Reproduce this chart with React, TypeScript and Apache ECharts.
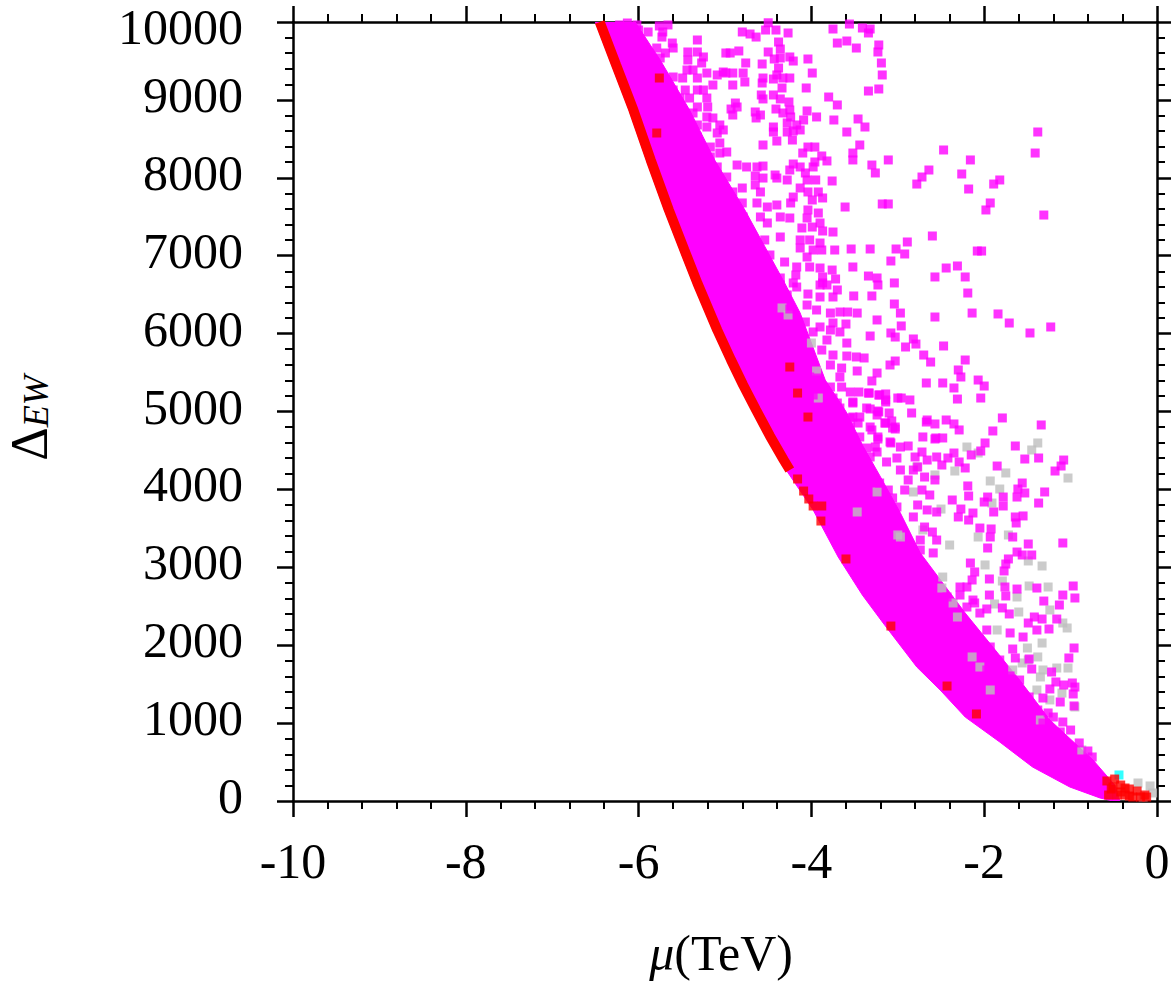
import React, { useEffect, useRef } from "react";
import * as echarts from "echarts";

const FONT = "'Liberation Serif', 'Times New Roman', serif";

const X_MIN = -10;
const X_MAX = 0;
const X_STEP = 2;
const Y_MIN = 0;
const Y_MAX = 10000;
const Y_STEP = 1000;

// lower (left) edge of the solid magenta band
const DENSE_LOWER = [
  [-6.5, 10000], [-6.31, 9448], [-6.11, 8870], [-5.91, 8229], [-5.7, 7587], [-5.52, 7073],
  [-5.37, 6650], [-5.14, 6046], [-4.98, 5661], [-4.84, 5340], [-4.69, 5019], [-4.53, 4686],
  [-4.37, 4377], [-3.98, 3736], [-3.69, 3132], [-3.41, 2644], [-3.17, 2285], [-2.78, 1720],
  [-2.51, 1425], [-2.22, 1078], [-1.82, 757], [-1.44, 436], [-1.01, 180], [-0.66, 39], [-0.51, 0],
];

// upper (right) edge of the solid magenta band, from bottom to top
const DENSE_UPPER = [
  [-0.43, 0], [-0.49, 205], [-0.74, 526], [-1.24, 1040], [-1.59, 1553], [-2.22, 2413],
  [-2.74, 3184], [-2.97, 3697], [-3.2, 4160], [-3.4, 4550], [-3.6, 5000], [-3.84, 5404], [-4.13, 6264], [-4.31, 6650],
  [-4.77, 7587], [-5.12, 8229], [-5.41, 8870], [-5.75, 9512], [-6.04, 10000],
];

// row of red points along the lower edge
const RED_EDGE = [
  [-6.45, 10000], [-6.26, 9448], [-6.06, 8870], [-5.86, 8229], [-5.65, 7587], [-5.47, 7073],
  [-5.32, 6650], [-5.09, 6046], [-4.93, 5661], [-4.79, 5340], [-4.64, 5019], [-4.48, 4686],
  [-4.32, 4377], [-4.25, 4249],
];

const MAGENTA = [
  [-4.5, 9990], [-4.8, 9872], [-4.71, 9846], [-4.64, 9807], [-4.53, 9897], [-4.41, 9897], [-4.27, 9859], [-4.38, 9743],
  [-3.75, 9910], [-3.56, 9974], [-3.41, 9923], [-3.32, 9910], [-3.34, 9859], [-3.7, 9730], [-3.59, 9756], [-3.48, 9666],
  [-3.22, 9705], [-3.23, 9615], [-3.19, 9474], [-3.18, 9320], [-3.22, 9140], [-3.34, 9114], [-4.04, 9525], [-3.99, 9345],
  [-4.06, 9153], [-3.8, 9037], [-3.7, 8935], [-3.94, 8781], [-3.74, 8742], [-3.46, 8755], [-3.59, 8588], [-3.38, 8652],
  [-3.44, 8421], [-3.52, 8318], [-3.52, 8229], [-3.3, 8164], [-3.26, 8062], [-3.11, 8229], [-2.78, 7920], [-3.76, 7959],
  [-3.61, 7625], [-3.18, 7664], [-3.11, 7664], [-2.89, 7176], [-2.92, 7022], [-3.02, 7086], [-3.08, 6932], [-3.04, 6650],
  [-3.32, 7086], [-3.54, 7086], [-3.73, 7073], [-3.52, 6855], [-3.34, 6739], [-3.24, 6714], [-3.23, 6624], [-3.72, 6701],
  [-3.7, 6560],
  [-1.38, 8588], [-1.41, 8318], [-2.47, 8357], [-2.16, 8229], [-2.64, 8100], [-2.72, 8010], [-2.26, 8049], [-2.18, 7856],
  [-1.89, 7920], [-1.82, 7972], [-1.93, 7677], [-1.98, 7587], [-1.31, 7522], [-2.6, 7253], [-2.08, 7060], [-2.03, 7060],
  [-2.44, 6842], [-2.31, 6868], [-2.57, 6727], [-2.22, 6727], [-2.19, 6521], [-3.3, 6483], [-3.51, 6483], [-3.04, 6380],
  [-2.97, 6264], [-3.47, 6264], [-3.24, 6175], [-2.57, 6213], [-2.14, 6264], [-1.84, 6252], [-1.71, 6136], [-1.47, 6008],
  [-1.23, 6085], [-2.96, 6098], [-3.08, 6008], [-3.03, 5956], [-3.32, 5969], [-2.82, 5931], [-2.79, 5866], [-2.91, 5828],
  [-2.47, 5841], [-2.7, 5725], [-2.62, 5635], [-2.22, 5661], [-3.39, 5687], [-3.48, 5700], [-3.47, 5520], [-3.03, 5648],
  [-3.09, 5597], [-3.24, 5494], [-3.3, 5392], [-2.67, 5366], [-2.48, 5366], [-2.35, 5302], [-2.3, 5533], [-2.27, 5443],
  [-2.07, 5404], [-2.0, 5327], [-2.04, 5173], [-2.31, 5160], [-2.96, 5173], [-2.86, 5148], [-3.33, 5237], [-3.45, 5250],
  [-3.22, 5212], [-3.14, 5225], [-3.14, 5122], [-3.32, 5032], [-3.22, 4994], [-3.1, 4981], [-2.84, 4981], [-1.79, 4917],
  [-2.44, 4891], [-2.66, 4891], [-3.44, 4929],
  [-1.34, 4827], [-1.9, 4750], [-1.99, 4596], [-1.64, 4557], [-2.04, 4493], [-2.15, 4442], [-2.35, 4467], [-2.29, 4763],
  [-2.35, 4840], [-2.57, 4840], [-2.67, 4865], [-2.48, 4660], [-2.57, 4647], [-2.71, 4673], [-2.88, 4557], [-2.97, 4544],
  [-3.08, 4596], [-3.03, 4775], [-3.07, 4878], [-3.15, 4852], [-3.23, 5006], [-1.53, 4390], [-1.37, 4403], [-1.08, 4377],
  [-1.11, 4300], [-1.18, 4236], [-1.85, 4300], [-2.22, 4275], [-2.29, 4352], [-2.42, 4403], [-2.49, 4313], [-1.56, 4082],
  [-1.61, 4005], [-1.53, 3954], [-1.62, 3902], [-1.3, 3967], [-1.37, 3825], [-1.78, 3902], [-1.78, 3787], [-1.96, 3902],
  [-2.0, 3838], [-1.89, 3710], [-2.19, 4044], [-2.18, 3915], [-2.37, 3864], [-2.27, 3748], [-2.3, 3646], [-2.13, 3697],
  [-2.18, 3607], [-1.64, 3646], [-1.55, 3659], [-1.63, 3569], [-2.05, 3504], [-1.92, 3492], [-1.93, 3389], [-1.67, 3389],
  [-1.49, 3299], [-1.09, 3312], [-1.62, 3196], [-1.56, 3158], [-1.45, 3158], [-1.96, 3248], [-1.72, 3107], [-1.75, 3042],
  [-1.77, 2953], [-2.11, 2940], [-2.16, 3055], [-1.94, 2850], [-1.76, 2747], [-1.62, 2721], [-1.75, 2632], [-1.39, 2734],
  [-0.97, 2760], [-0.95, 2606], [-1.09, 2644], [-1.31, 2567], [-1.13, 2516], [-1.79, 2478], [-1.71, 2401], [-1.97, 2465],
  [-1.94, 2644], [-1.42, 2362], [-1.33, 2336], [-1.16, 2336], [-2.28, 2644], [-2.2, 2747], [-2.14, 2837], [-2.2, 2490],
  [-2.11, 2542],
  [-1.49, 2285], [-1.25, 2208], [-1.39, 2195], [-1.55, 2105], [-1.7, 2157], [-0.96, 1964], [-1.02, 1836], [-1.48, 1823],
  [-1.45, 1694], [-1.67, 1951], [-1.64, 1836], [-1.22, 1656], [-1.17, 1528], [-1.08, 1489], [-0.98, 1515], [-0.95, 1463],
  [-0.97, 1374], [-1.12, 1271], [-0.96, 1220], [-1.24, 1438], [-1.32, 1322], [-1.48, 1335], [-1.38, 1168], [-1.26, 1130],
  [-1.2, 1078], [-1.09, 1014], [-1.0, 911], [-1.12, 886], [-1.24, 873], [-0.9, 745], [-0.8, 642], [-0.75, 565],
  [-1.32, 1001], [-1.59, 1553], [-1.7, 1605], [-1.82, 1592], [-1.82, 1463], [-2.08, 1425], [-1.97, 1682], [-1.82, 1810],
  [-1.93, 1977], [-2.08, 2067], [-1.97, 2195], [-2.05, 2413], [-2.13, 2580], [-2.28, 2747], [-2.43, 2619], [-2.57, 2580],
  [-2.71, 2747],
  [-4.36, 6624], [-4.17, 6598], [-3.87, 6650], [-4.28, 6496], [-4.04, 6508], [-3.9, 6470], [-3.75, 6470], [-4.25, 6316],
  [-4.05, 6367], [-3.94, 6303], [-3.78, 6264], [-3.67, 6277], [-3.58, 6277], [-4.07, 6149], [-3.9, 6085], [-3.75, 6136],
  [-3.6, 6123], [-4.13, 6046], [-3.98, 6021], [-3.78, 6046], [-3.67, 6021], [-4.17, 5892], [-3.82, 5918], [-3.59, 5879],
  [-4.13, 5764], [-3.88, 5789], [-3.75, 5725], [-3.59, 5712], [-4.13, 5635], [-3.78, 5597], [-3.65, 5558], [-4.02, 5443],
  [-3.92, 5430], [-3.67, 5443], [-3.94, 5327], [-3.78, 5314], [-3.55, 5250], [-3.0, 5173], [-3.98, 5212], [-3.75, 5173],
  [-3.52, 5122], [-3.67, 5045], [-3.82, 5058], [-3.52, 4929], [-3.32, 4801], [-3.06, 4788], [-3.7, 4801], [-3.55, 4801],
  [-3.44, 4673], [-3.23, 4673], [-3.09, 4609], [-3.67, 4596], [-3.52, 4544], [-3.36, 4531], [-3.24, 4480],
  [-3.65, 5314], [-3.34, 5237], [-3.21, 5212], [-3.14, 5148], [-2.56, 4660], [-3.03, 4801], [-3.14, 4852], [-3.23, 4647],
  [-3.26, 4544], [-3.32, 4416], [-3.13, 4352], [-3.01, 4403], [-2.8, 4416], [-2.72, 4480], [-2.66, 4377], [-2.55, 4416],
  [-2.77, 4288], [-2.69, 4159], [-2.57, 4121], [-2.88, 4121], [-2.82, 4249], [-2.92, 3992], [-2.72, 3992], [-2.63, 3928],
  [-2.77, 3800], [-2.66, 3736], [-2.55, 3710], [-2.82, 3646], [-2.69, 3517], [-2.6, 3453], [-2.74, 3350], [-2.55, 3350],
  [-2.74, 3222], [-2.59, 3184], [-3.01, 3774], [-3.06, 3890], [-3.11, 3992], [-3.21, 4082], [-2.97, 4249], [-3.46, 4852],
  [-3.55, 4917], [-3.78, 5019], [-3.7, 5109], [-3.52, 5109], [-3.36, 5045], [-3.3, 4763], [-3.24, 4955],
  [-4.84, 9628], [-4.76, 9474], [-4.94, 9602], [-4.57, 9461], [-4.5, 9615], [-4.36, 9653], [-4.43, 9525], [-4.21, 9499],
  [-4.38, 9409], [-4.4, 9320], [-4.79, 9345], [-4.91, 9345], [-4.56, 9281], [-4.33, 9281], [-4.77, 9230], [-4.34, 9153],
  [-4.58, 9063], [-4.44, 9063], [-4.88, 8960], [-4.36, 9012], [-4.93, 8883], [-4.65, 8845], [-4.41, 8883], [-4.25, 8870],
  [-4.05, 8858], [-4.24, 8781], [-4.09, 8742], [-4.64, 8768], [-4.17, 8678], [-4.44, 8652], [-4.28, 8588], [-4.56, 8421],
  [-4.4, 8472], [-4.22, 8485], [-4.04, 8395], [-3.88, 8280], [-3.96, 8203], [-4.07, 8062], [-4.13, 8139], [-4.25, 8100],
  [-4.42, 8036], [-4.28, 7972], [-4.56, 8151], [-4.75, 8139], [-4.65, 8023], [-4.05, 7972], [-4.13, 7869], [-3.92, 7818],
  [-3.99, 7715], [-4.59, 7818], [-4.8, 7869], [-4.8, 7677], [-4.51, 7625], [-4.21, 7753], [-4.04, 7587], [-3.9, 7420],
  [-4.25, 7484], [-4.51, 7420], [-4.79, 7497], [-4.8, 7368], [-4.54, 7202], [-4.36, 7240], [-4.11, 7356], [-3.87, 7317],
  [-4.13, 7202], [-3.9, 7163], [-3.98, 7073], [-4.05, 6983], [-4.17, 6855], [-3.9, 6842], [-3.76, 6816], [-4.21, 6650],
  [-4.36, 6714], [-4.48, 6778], [-4.59, 6662], [-3.82, 6624],
  [-4.99, 9602], [-4.36, 9538], [-4.25, 9551], [-4.99, 9345], [-4.44, 9268], [-4.25, 9281], [-4.91, 9191], [-4.57, 9217],
  [-4.56, 9012], [-4.26, 8973], [-4.86, 8909], [-4.59, 8806], [-4.91, 8806], [-4.33, 8832], [-4.28, 8704], [-4.44, 8588],
  [-4.21, 8601], [-4.13, 8614], [-3.96, 8395], [-4.1, 8318], [-3.82, 8216], [-3.98, 8139], [-4.21, 8177], [-4.63, 8139],
  [-4.86, 8164], [-4.56, 7997], [-4.4, 7997], [-3.95, 7972], [-4.04, 7818], [-3.87, 7741], [-4.65, 7908], [-4.91, 7818],
  [-4.63, 7677], [-4.4, 7651], [-4.24, 7677], [-3.92, 7548], [-4.05, 7484], [-4.36, 7497], [-4.59, 7497], [-3.99, 7368],
  [-3.75, 7304], [-4.02, 7202], [-3.88, 7073], [-4.13, 7099], [-4.02, 6855], [-3.87, 6727], [-4.18, 6752], [-4.48, 6598],
  [-3.9, 6624],
  [-6.33, 9936], [-6.22, 9962], [-6.02, 9962], [-5.89, 9872], [-5.76, 9949], [-5.66, 9962], [-5.73, 9807], [-6.13, 9795],
  [-6.22, 9743], [-6.01, 9743], [-6.18, 9602], [-5.98, 9615], [-5.79, 9666], [-5.69, 9602], [-5.61, 9730], [-5.32, 9769],
  [-5.43, 9615], [-5.25, 9551], [-5.43, 9512], [-6.02, 9474], [-5.75, 9538], [-5.44, 9384], [-5.21, 9345], [-5.09, 9320],
  [-5.49, 9281], [-5.32, 9281], [-5.14, 9191], [-5.25, 9127], [-5.6, 9294], [-5.67, 9217], [-5.9, 9217], [-5.6, 9127],
  [-5.46, 9127], [-5.41, 9024], [-5.21, 9024], [-5.2, 8909], [-5.32, 8909], [-5.6, 8870], [-5.72, 8960], [-5.54, 8768],
  [-5.37, 8832], [-5.14, 8768], [-5.32, 8678], [-5.06, 8678], [-5.5, 8588], [-5.41, 8524], [-5.29, 8421], [-5.06, 8447],
  [-4.98, 8331], [-5.17, 8267], [-5.09, 8139], [-5.41, 8139], [-5.52, 8318], [-5.44, 8010], [-5.21, 8036], [-4.98, 8010],
  [-5.09, 7805], [-5.29, 7843], [-5.25, 7689], [-4.94, 7587],
  [-4.83, 7330], [-4.69, 7073], [-4.77, 6919], [-4.48, 7009], [-4.31, 6919],
  [-6.13, 9987], [-6.0, 9897], [-5.72, 9872], [-6.22, 9833], [-6.12, 9679], [-5.9, 9615], [-5.6, 9666], [-5.32, 9615],
  [-5.27, 9474], [-5.9, 9474], [-6.1, 9448], [-5.37, 9384], [-5.02, 9358], [-6.02, 9281], [-5.32, 9127], [-5.52, 9024],
  [-5.21, 8781], [-5.21, 8652], [-5.09, 8575], [-5.02, 8614], [-5.56, 8511], [-5.32, 8524], [-5.46, 8447], [-5.17, 8395],
  [-5.06, 8318], [-5.21, 8190], [-5.09, 8036], [-5.02, 7882], [-5.37, 7882], [-5.12, 7625],
];

const GRAY = [
  [-1.48, 2760], [-1.26, 2747], [-1.6, 2426], [-1.24, 2452], [-1.09, 2285], [-1.04, 2221], [-1.33, 2028], [-1.5, 1964],
  [-1.38, 1849], [-1.56, 1772], [-1.32, 1682], [-1.03, 1707], [-1.35, 1592], [-1.16, 1707], [-1.39, 1425], [-1.1, 1386],
  [-1.24, 1297], [-0.95, 1207], [-1.35, 1040], [-0.87, 655], [-0.22, 231], [-0.16, 51], [-0.05, 103], [-0.08, 193],
  [-2.05, 1720], [-2.31, 2362], [-2.14, 1849], [-1.85, 2195], [-1.93, 1425], [-1.67, 1682], [-2.36, 2542], [-2.49, 2734],
  [-1.49, 1810], [-2.2, 4544], [-2.07, 4467], [-1.38, 4596], [-1.45, 4506], [-1.75, 4211], [-1.93, 4108], [-2.34, 4236],
  [-2.57, 4185], [-1.82, 4005], [-1.91, 3825], [-1.03, 4146], [-2.5, 3748], [-2.07, 3389], [-1.72, 3415], [-2.4, 3286],
  [-1.99, 3030], [-1.49, 3081], [-1.33, 3017], [-2.48, 2875], [-1.79, 2824], [-1.62, 2619], [-1.88, 2529], [-2.97, 3389],
  [-2.71, 3479], [-2.82, 3967], [-2.78, 4288], [-4.34, 6329], [-4.27, 6239], [-4.0, 5879], [-3.94, 5520], [-3.92, 5173],
  [-3.47, 3710], [-3.24, 3967], [-3.0, 3415],
];

const RED = [
  [-5.76, 9281], [-5.79, 8575], [-4.25, 5571], [-4.16, 5237], [-4.04, 4929], [-4.16, 4134], [-4.09, 3979], [-4.03, 3877],
  [-3.98, 3787], [-3.88, 3787], [-3.89, 3594], [-3.6, 3107], [-3.08, 2246], [-2.43, 1476], [-2.09, 1117],
  [-0.58, 257], [-0.49, 282], [-0.51, 180], [-0.42, 205], [-0.32, 154], [-0.23, 128], [-0.14, 77], [-0.56, 77],
  [-0.46, 77], [-0.37, 77], [-0.28, 51], [-0.19, 51], [-0.42, 116], [-0.32, 64], [-0.12, 51], [-0.53, 154], [-0.37, 167],
];

const CYAN = [[-0.44, 334]];

const MAGENTA_C = "#ff00ff";
const RED_C = "#ff0000";
const GRAY_C = "#bebebe";
const CYAN_C = "#00ffff";

function axisBase(min: number, max: number, step: number, position: string, showLabel: boolean, labelMargin: number, raise: boolean) {
  return {
    type: "value",
    min,
    max,
    interval: step,
    position,
    axisLine: { show: true, onZero: false, lineStyle: { color: "#000", width: 2.5 } },
    axisTick: { show: true, inside: false, length: 16, lineStyle: { color: "#000", width: 2.5 } },
    minorTick: { show: true, splitNumber: 5, length: 8, lineStyle: { color: "#000", width: 2 } },
    splitLine: { show: false },
    minorSplitLine: { show: false },
    axisLabel: {
      show: showLabel,
      fontSize: 50,
      lineHeight: 40,
      fontFamily: FONT,
      color: "#000",
      margin: labelMargin,
      formatter: (v: number) => (raise ? (v !== max ? `{a|${v}}` : `{b|${v}}`) : `{c|${v}}`),
      rich: {
        a: { fontSize: 50, lineHeight: 40, fontFamily: FONT, color: "#000", padding: [0, 0, 10, 0] },
        b: { fontSize: 50, lineHeight: 40, fontFamily: FONT, color: "#000", padding: [10, 0, 0, 0] },
        c: { fontSize: 50, lineHeight: 40, fontFamily: FONT, color: "#000" },
      },
    },
  };
}

export default function App() {
  const ref = useRef<HTMLDivElement>(null);
  useEffect(() => {
    document.body.style.margin = "0";
    if (!ref.current) return;
    const chart = echarts.init(ref.current, null, { renderer: "svg" });
    const symbolSize = 9;
    const option = {
      animation: false,
      backgroundColor: "#ffffff",
      grid: { left: 293, right: 14, top: 22, bottom: 183, containLabel: false, outerBoundsMode: "none" },
      xAxis: [
        axisBase(X_MIN, X_MAX, X_STEP, "bottom", true, 40, false),
        axisBase(X_MIN, X_MAX, X_STEP, "top", false, 8, false),
      ],
      yAxis: [
        axisBase(Y_MIN, Y_MAX, Y_STEP, "left", true, 50, true),
        axisBase(Y_MIN, Y_MAX, Y_STEP, "right", false, 8, false),
      ],
      graphic: [
        {
          type: "text",
          x: 721,
          y: 953,
          style: {
            text: "{i|μ}(TeV)",
            fontSize: 50,
            fontFamily: FONT,
            fill: "#000",
            textAlign: "center",
            textVerticalAlign: "middle",
            rich: { i: { fontSize: 50, fontFamily: FONT, fontStyle: "italic", fill: "#000" } },
          },
        },
        {
          type: "text",
          x: 29,
          y: 418,
          rotation: Math.PI / 2,
          style: {
            text: "{d|Δ}{s|EW}",
            fill: "#000",
            textAlign: "center",
            textVerticalAlign: "middle",
            rich: {
              d: { fontSize: 52, fontFamily: FONT, fill: "#000", lineHeight: 50, verticalAlign: "middle" },
              s: { fontSize: 36, fontFamily: FONT, fontStyle: "italic", fill: "#000", lineHeight: 30, verticalAlign: "bottom" },
            },
          },
        },
      ],
      series: [
        {
          type: "custom",
          xAxisIndex: 0,
          yAxisIndex: 0,
          silent: true,
          clip: true,
          data: [[-4, 4000]],
          renderItem: (_params: any, api: any) => {
            const pts = DENSE_LOWER.concat(DENSE_UPPER).map((p) => api.coord(p));
            return { type: "polygon", shape: { points: pts }, style: { fill: MAGENTA_C, stroke: MAGENTA_C, lineWidth: 1 } };
          },
        },
        { type: "scatter", symbol: "rect", symbolSize, data: GRAY, itemStyle: { color: GRAY_C }, silent: true },
        { type: "scatter", symbol: "rect", symbolSize, data: MAGENTA, itemStyle: { color: MAGENTA_C }, silent: true },
        { type: "scatter", symbol: "rect", symbolSize, data: CYAN, itemStyle: { color: CYAN_C }, silent: true },
        {
          type: "line",
          data: RED_EDGE,
          symbol: "none",
          clip: true,
          lineStyle: { color: RED_C, width: 10 },
          silent: true,
        },
        { type: "scatter", symbol: "rect", symbolSize, data: RED, itemStyle: { color: RED_C }, silent: true },
      ],
    };
    chart.setOption(option as any);
    return () => chart.dispose();
  }, []);
  return <div ref={ref} style={{ width: 1171, height: 984 }} />;
}
